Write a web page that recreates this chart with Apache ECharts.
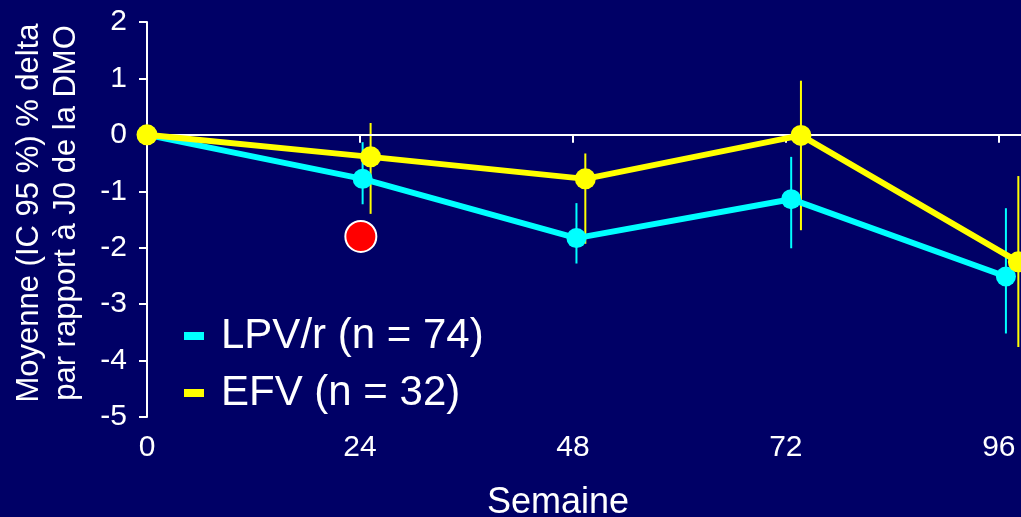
<!DOCTYPE html>
<html>
<head>
<meta charset="utf-8">
<script src="https://cdn.jsdelivr.net/npm/echarts@6/dist/echarts.min.js"></script>
<style>
  html, body { margin: 0; padding: 0; background: #000066; }
  #graph { width: 1021px; height: 517px; }
</style>
</head>
<body>
<div id="graph"></div>
<script>
"use strict"

const weekTicks = [0, 24, 48, 72, 96];

// LPV/r : week, mean, CI low, CI high
const lpvWeeks = [0, 24.3, 48.4, 72.6, 96.8];
const lpvMean = [0, -0.78, -1.83, -1.14, -2.51];
const lpvLow = [0, -1.23, -2.28, -2.01, -3.52];
const lpvHigh = [0, -0.13, -1.21, -0.39, -1.30];

// EFV
const efvWeeks = [0, 25.2, 49.4, 73.7, 98.2];
const efvMean = [0, -0.39, -0.78, -0.01, -2.25];
const efvLow = [0, -1.40, -1.93, -1.69, -3.76];
const efvHigh = [0, 0.21, -0.33, 0.96, -0.73];

// significance dot
const sigPoint = [24.1, -1.80];

const font = "Liberation Sans, Arial, sans-serif";
const lpvColor = "#00ffff", efvColor = "#ffff00";

const zip = (xs, ys) => xs.map((x, i) => [x, ys[i]]);
const bars = (xs, lo, hi) => xs.map((x, i) => [x, lo[i], hi[i]]).slice(1);

function errorSeries(name, color, data, z)
{
    return {
        name: name + "_ci",
        type: "custom",
        z: z,
        silent: true,
        clip: false,
        data: data,
        encode: { x: 0, y: [1, 2] },
        renderItem: (params, api) =>
        {
            const a = api.coord([api.value(0), api.value(1)]);
            const b = api.coord([api.value(0), api.value(2)]);
            return {
                type: "line",
                shape: { x1: a[0], y1: a[1], x2: b[0], y2: b[1] },
                style: { stroke: color, lineWidth: 2 }
            };
        }
    };
}

const myChart = echarts.init(document.getElementById("graph"), null, { renderer: "canvas" });

const option = {
    backgroundColor: "#000066",
    animation: false,
    textStyle: { fontFamily: font },
    grid: { left: 147, right: 0, top: 22, bottom: 100, outerBoundsMode: "none" },
    legend: {
        orient: "vertical",
        left: 184,
        top: 315,
        padding: 0,
        itemGap: 15,
        itemWidth: 20,
        itemHeight: 8,
        icon: "rect",
        data: ["LPV/r (n = 74)", "EFV (n = 32)"],
        textStyle: { color: "#ffffff", fontSize: 42, lineHeight: 42, fontFamily: font, padding: [0, 0, 0, 12] }
    },
    xAxis: {
        type: "value",
        min: 0,
        max: 98.5,
        interval: 24,
        name: "Semaine",
        nameLocation: "middle",
        nameGap: 68,
        nameTextStyle: { color: "#ffffff", fontSize: 36, fontFamily: font, padding: [0, 52, 0, 0] },
        axisLine: { lineStyle: { color: "#ffffff", width: 2 } },
        axisTick: { length: 8, lineStyle: { color: "#ffffff", width: 2 }, customValues: [24, 48, 72, 96] },
        axisLabel: { color: "#ffffff", fontSize: 30, margin: 16, customValues: weekTicks, fontFamily: font },
        splitLine: { show: false }
    },
    yAxis: {
        type: "value",
        min: -5,
        max: 2,
        interval: 1,
        name: "Moyenne (IC 95 %) % delta\npar rapport à J0 de la DMO",
        nameLocation: "middle",
        nameRotate: 90,
        nameGap: 62,
        nameTextStyle: { color: "#ffffff", fontSize: 31, lineHeight: 37, fontFamily: font, padding: [0, 0, 0, 13] },
        axisLine: { show: true, lineStyle: { color: "#ffffff", width: 2 } },
        axisTick: { show: true, length: 8, lineStyle: { color: "#ffffff", width: 2 } },
        axisLabel: { color: "#ffffff", fontSize: 30, margin: 20, fontFamily: font },
        splitLine: { show: false }
    },
    series: [
        {
            name: "zero",
            type: "line",
            z: 1,
            data: [],
            markLine: {
                silent: true,
                symbol: "none",
                label: { show: false },
                lineStyle: { color: "#ffffff", width: 2, type: "solid" },
                data: [{ yAxis: 0 }]
            }
        },
        errorSeries("LPV/r (n = 74)", lpvColor, bars(lpvWeeks, lpvLow, lpvHigh), 3),
        errorSeries("EFV (n = 32)", efvColor, bars(efvWeeks, efvLow, efvHigh), 3),
        {
            name: "LPV/r (n = 74)",
            type: "line",
            z: 4,
            clip: false,
            data: zip(lpvWeeks, lpvMean),
            symbol: "circle",
            symbolSize: 20,
            itemStyle: { color: lpvColor },
            lineStyle: { color: lpvColor, width: 6 }
        },
        {
            name: "EFV (n = 32)",
            type: "line",
            z: 5,
            clip: false,
            data: zip(efvWeeks, efvMean),
            symbol: "circle",
            symbolSize: 21,
            itemStyle: { color: efvColor },
            lineStyle: { color: efvColor, width: 6 }
        },
        {
            name: "sig",
            type: "scatter",
            z: 6,
            data: [sigPoint],
            symbol: "circle",
            symbolSize: 31,
            itemStyle: { color: "#ff0000", opacity: 1, borderColor: "#ffffff", borderWidth: 2 }
        }
    ]
};

myChart.setOption(option);
</script>
</body>
</html>
